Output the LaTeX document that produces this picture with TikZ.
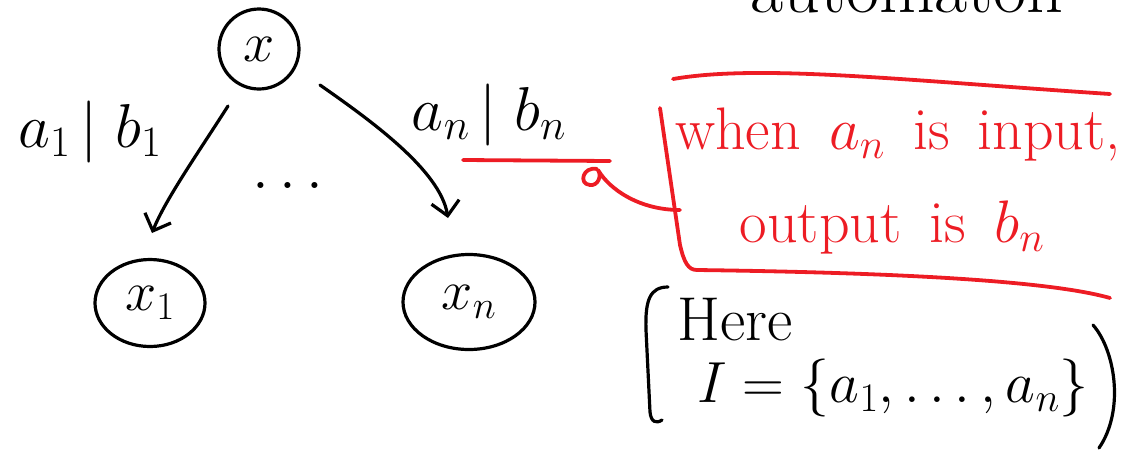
\RequirePackage{fix-cm}
\documentclass[tikz,border=0pt]{standalone}
\usetikzlibrary{arrows.meta,shapes.geometric}
\definecolor{penred}{HTML}{ED1C24}
\begin{document}
\begin{tikzpicture}[x=1pt,y=-1pt,
  pen/.style={line width=3.2pt,line cap=round,line join=round},
  redpen/.style={pen,line width=3.8pt,draw=penred},
  state/.style={ellipse,draw,pen,inner sep=0pt,font=\fontsize{56}{60}\selectfont},
  lbl/.style={font=\fontsize{62}{66}\selectfont,inner sep=0pt},
  redtxt/.style={font=\fontsize{60}{64}\selectfont,text=penred,inner sep=0pt},
  arr/.style={pen,-{Straight Barb[length=14pt,width=28pt,line width=3.2pt]}}
]
\useasboundingbox (0,0) rectangle (1141,451);
\clip (0,0) rectangle (1141,451);

% cut-off heading at top right
\node[anchor=base,inner sep=0pt,font=\fontsize{72}{72}\selectfont] (head) at (907,12) {automaton};

% states
\node[state,minimum width=80pt,minimum height=80pt] (x) at (259,49) {$x$};
\node[state,minimum width=110pt,minimum height=87pt] (x1) at (150,303) {$x_1$};
\node[state,minimum width=132pt,minimum height=95pt] (xn) at (469,302) {$x_n$};

% transitions
\coordinate (s1) at (228,106);
\coordinate (e1) at (152,233);
\coordinate (s2) at (320,85);
\coordinate (e2) at (448,218);
\draw[arr] (s1) .. controls (200,150) and (165,200) .. (e1);
\draw[arr] (s2) .. controls (370,120) and (440,170) .. (e2);

\node[lbl] (l1) at (90,132) {$a_1\,|\;b_1$};
\node[lbl] (ln) at (489,115) {$a_n\,|\;b_n$};
\node[lbl,anchor=base] (dots) at (288,188) {$\ldots$};

% red annotation
\coordinate (u1) at (463,160);
\coordinate (u2) at (610,161);
\draw[redpen] (u1) -- (u2);
\coordinate (boxin) at (680,210);
\draw[redpen] (597,169) .. controls (583,166) and (578,184) .. (590,185)
  .. controls (598,186) and (602,176) .. (598,170)
  .. controls (610,190) and (640,210) .. (boxin);
\coordinate (tl) at (673,79);
\coordinate (tr) at (1110,94);
\draw[redpen] (tl) .. controls (760,64) and (900,80) .. (tr);
\coordinate (lt) at (660,108);
\coordinate (bl) at (697,270);
\coordinate (br) at (1110,298);
\draw[redpen] (lt) -- (680,245) .. controls (684,262) and (688,270) .. (bl)
  .. controls (850,272) and (1040,278) .. (br);
\node[redtxt] (t1) at (898,135) {when\, $a_n$\, is\, input,};
\node[redtxt] (t2) at (892,228) {output\, is\, $b_n$};

% black note
\draw[pen] (668,287) .. controls (650,287) and (645,300) .. (646,330)
  -- (650,412) .. controls (651,422) and (656,424) .. (662,420);
\draw[pen] (1093,325) .. controls (1115,350) and (1125,410) .. (1099,448);
\node[lbl,anchor=west] (here) at (677,320) {Here};
\node[lbl,anchor=west,font=\fontsize{58}{62}\selectfont] (set) at (697,388) {$I=\{a_1,\ldots,a_n\}$};
\end{tikzpicture}
\end{document}
